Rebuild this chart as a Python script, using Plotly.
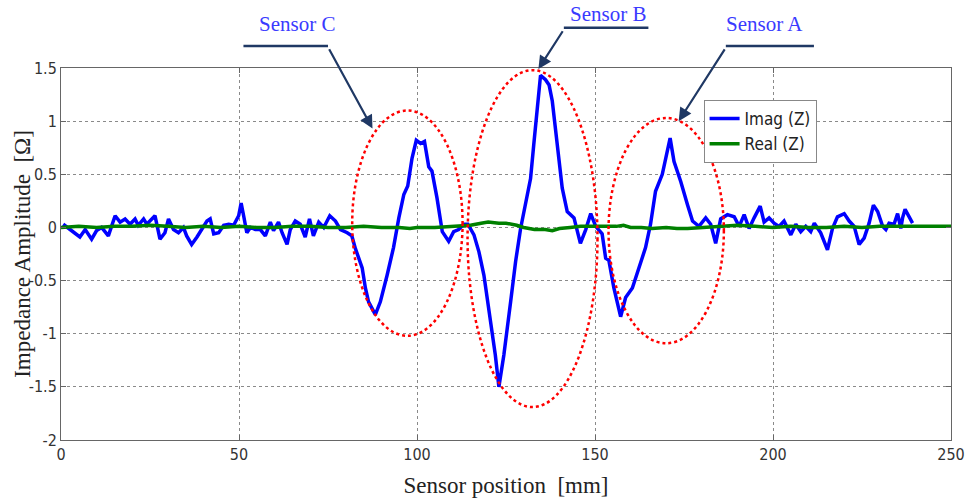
import plotly.graph_objects as go

# ---- data ----
imag_x = [0.6, 3.5, 5.3, 6.8, 8.6, 10, 11.4, 13.3, 15.2, 16.6, 18, 19.4, 20.8, 21.7, 23.2, 24.1, 25.5, 26.4,
          27.8, 29.2, 30.2, 31.6, 33, 34.4, 35.3, 36.7, 38.2, 39.6, 41, 41.9, 42.9, 44.3, 45.7, 47.1, 48.5,
          49.9, 50.6, 51.3, 52.2, 53.2, 54.6, 56, 57.4, 58.8, 59.7, 61.1, 62.1, 63.5, 64.4, 65.8, 67.2, 68.6,
          69.8, 70.9, 72.4, 73.8, 75.5, 77.1, 78.5, 80.4, 81.7, 82.7, 84.6, 85.5, 86.4, 88.3, 89.7, 91.6,
          93.4, 94.9, 96.3, 97.4, 98.6, 99.8, 101, 102.1, 103.3, 104.2, 105.6, 107.1, 108.9, 110.3, 111.7,
          113.1, 114.3, 116, 117.4, 118.8, 120.6, 122, 123, 124.4, 126.3, 127.7, 129.1, 130.5, 131.9, 132.8,
          133.8, 134.7, 136.1, 137.1, 138, 139.4, 140.8, 142.2, 144.1, 145.9, 147.4, 148.8, 150.2, 152, 153,
          153.9, 155.3, 157.2, 158.6, 160.5, 162.3, 164.2, 165.6, 167, 168.9, 169.9, 171.1, 172.2, 174.1,
          176, 177.4, 179.2, 181.1, 182.5, 183.9, 185.3, 187.2, 189.1, 190.5, 191.9, 193.3, 194.7, 196.4,
          197.5, 198.9, 200.3, 201.7, 203.1, 205, 206.4, 207.8, 209.2, 210.6, 211.6, 213.4, 215.3, 216.7,
          218.1, 220, 221.4, 222.8, 224.2, 225.6, 227, 228.2, 229.4, 230.8, 231.7, 232.6, 234, 235, 235.9,
          236.4, 237.1, 238.3, 239.2]
imag_y = [0.03, -0.05, -0.09, -0.02, -0.11, -0.03, 0, -0.08, 0.11, 0.05, 0.08, 0.03, 0.08, 0.02, 0.08, 0.03, 0.08, 0.11,
          -0.11, -0.05, 0.08, -0.02, -0.05, 0, -0.08, -0.16, -0.09, -0.02, 0.06, 0.08, -0.06, -0.05, 0.02, 0.03, 0.02,
          0.11, 0.23, 0.11, -0.05, 0, -0.02, -0.02, -0.08, 0.05, -0.03, 0.05, -0.05, -0.16, -0.02, 0.06, 0.03, -0.09,
          0.08, -0.08, 0.05, 0, 0.11, 0.06, -0.02, -0.05, -0.08, -0.2, -0.38, -0.57, -0.70, -0.82, -0.70, -0.45,
          -0.19, 0.09, 0.31, 0.39, 0.65, 0.82, 0.79, 0.81, 0.57, 0.53, 0.28, -0.04, -0.13, -0.04, -0.02,
          0.03, 0.03, -0.07, -0.23, -0.45, -0.88, -1.2, -1.5, -1.2, -0.7, -0.32, -0.01, 0.24, 0.46, 0.78,
          1.15, 1.43, 1.39, 1.34, 1.19, 0.75, 0.37, 0.15, 0.09, -0.15, -0.02, 0.13, 0.01, -0.06, -0.29,
          -0.31, -0.57, -0.84, -0.66, -0.57, -0.38, -0.19, 0.03, 0.34, 0.5, 0.65, 0.84, 0.62, 0.43,
          0.21, 0.06, 0.01, 0.09, 0.03, -0.15, 0.08, 0.12, 0.10, 0.01, 0.12, -0.01, 0.09, 0.20,
          0.05, 0.09, 0.04, 0.01, 0.06, -0.07, 0.03, -0.04, 0.01, -0.04, 0.04, -0.05, -0.21, -0.01,
          0.10, 0.13, 0.06, 0.01, -0.16, -0.10, 0.04, 0.21, 0.15, 0.01, -0.02, 0.04, 0.03, 0.13, -0.01,
          0.09, 0.17, 0.10, 0.04]

real_x = [0, 5, 10, 15, 20, 25, 30, 35, 40, 45, 50, 55, 60, 65, 70, 75, 80, 85, 90, 95, 98, 100, 105, 110,
          115, 118, 120, 123, 125, 128, 130, 133, 136, 138, 140, 143, 146, 150, 153, 156, 158, 160, 163, 166,
          170, 173, 176, 180, 185, 190, 195, 200, 205, 210, 215, 220, 225, 230, 235, 240, 245, 250]
real_y = [0.0, 0.01, 0.0, 0.01, 0.01, 0.02, 0.01, 0.0, 0.01, 0.0, 0.01, 0.0, 0.0, 0.01, 0.01, 0.0, 0.0, 0.01,
          0.0, 0.0, -0.01, 0.0, 0.0, 0.01, 0.02, 0.04, 0.05, 0.04, 0.04, 0.02, 0.0, -0.02, -0.02, -0.03,
          -0.01, 0.0, 0.01, 0.01, 0.01, 0.01, 0.02, 0.0, 0.0, -0.01, 0.0, -0.01, -0.01, 0.0, 0.01, 0.02,
          0.01, 0.0, 0.01, 0.0, 0.0, 0.01, 0.0, 0.01, 0.01, 0.01, 0.01, 0.01]

x_ticks = [0, 50, 100, 150, 200, 250]
y_ticks = [-2, -1.5, -1, -0.5, 0, 0.5, 1, 1.5]
y_tick_text = ["-2", "-1.5", "-1", "-0.5", "0", "0.5", "1", "1.5"]

sensor_names = ["Sensor C", "Sensor B", "Sensor A"]

NARROW = "Liberation Sans Narrow, Arial Narrow, DejaVu Sans Condensed, Liberation Sans, Arial"
TICKFONT = dict(family=NARROW, size=16, color="#333333")
SERIF = "Liberation Serif, Times New Roman, serif"
GRID = "#8a8a8a"

fig = go.Figure()
fig.add_trace(go.Scatter(x=imag_x, y=imag_y, mode="lines", name="Imag (Z)",
                         line=dict(color="#0000ff", width=3.5)))
fig.add_trace(go.Scatter(x=real_x, y=real_y, mode="lines", name="Real (Z)",
                         line=dict(color="#008000", width=3.5)))

# ellipses (data coordinates)
ellipses = [(81.8, 112.8, -1.02, 1.10), (114.2, 150.7, -1.69, 1.48), (153.8, 186.2, -1.09, 1.03)]
for x0, x1, y0, y1 in ellipses:
    fig.add_shape(type="circle", xref="x", yref="y", x0=x0, x1=x1, y0=y0, y1=y1,
                  line=dict(color="#ff0000", width=2.5, dash="dot"))

NAVY = "#1f3864"
# leader lines (paper coords) + arrows + labels
leaders = [(0.205, 0.300, 1.059), (0.565, 0.660, 1.108), (0.747, 0.846, 1.059)]
for lx0, lx1, ly in leaders:
    fig.add_shape(type="line", xref="paper", yref="paper", x0=lx0, x1=lx1, y0=ly, y1=ly,
                  line=dict(color=NAVY, width=2.5))

arrows = [((87.5, 0.93), (75.1, 1.69)), ((134.1, 1.49), (141.2, 1.86)), ((173.5, 1.0), (186.7, 1.69))]
for (hx, hy), (tx, ty) in arrows:
    fig.add_annotation(x=hx, y=hy, ax=tx, ay=ty, xref="x", yref="y", axref="x", ayref="y",
                       text="", showarrow=True, arrowhead=2, arrowsize=1.2, arrowwidth=2.2,
                       arrowcolor=NAVY)

label_pos = [(0.265, 1.119), (0.615, 1.146), (0.790, 1.119)]
for name, (px, py) in zip(sensor_names, label_pos):
    fig.add_annotation(x=px, y=py, xref="paper", yref="paper", text=name, showarrow=False,
                       font=dict(family=SERIF, size=21, color="#3a3aff"),
                       xanchor="center", yanchor="middle")

# y-axis title as a rotated annotation for precise placement
fig.add_annotation(x=-0.044, y=0.5, xref="paper", yref="paper", text="Impedance Amplitude  [Ω]",
                   textangle=-90, showarrow=False, xanchor="center", yanchor="middle",
                   font=dict(family=SERIF, size=23, color="#222222"))

fig.update_layout(
    width=969, height=503,
    margin=dict(l=61, r=18, t=68, b=63),
    paper_bgcolor="white", plot_bgcolor="white",
    showlegend=True,
    legend=dict(x=0.722, y=0.914, xanchor="left", yanchor="top",
                bgcolor="white", bordercolor="#888888", borderwidth=1,
                font=dict(family=NARROW, size=17, color="#222222"),
                tracegroupgap=0, itemwidth=30),
    xaxis=dict(range=[0, 250], tickvals=x_ticks, ticks="inside", ticklen=5, tickcolor="#666666",
               showgrid=True, gridcolor=GRID, griddash="dot", gridwidth=1,
               showline=True, linecolor="#666666", linewidth=1, mirror="ticks",
               zeroline=False, tickfont=TICKFONT, automargin=False,
               title=dict(text="Sensor position  [mm]", font=dict(family=SERIF, size=23, color="#222222"),
                          standoff=13)),
    yaxis=dict(range=[-2, 1.5], tickvals=y_ticks, ticktext=y_tick_text, ticks="inside", ticklen=5,
               tickcolor="#666666",
               showgrid=True, gridcolor=GRID, griddash="dot", gridwidth=1,
               showline=True, linecolor="#666666", linewidth=1, mirror="ticks",
               zeroline=False, tickfont=TICKFONT, automargin=False),
)

fig.write_html("out.html")
